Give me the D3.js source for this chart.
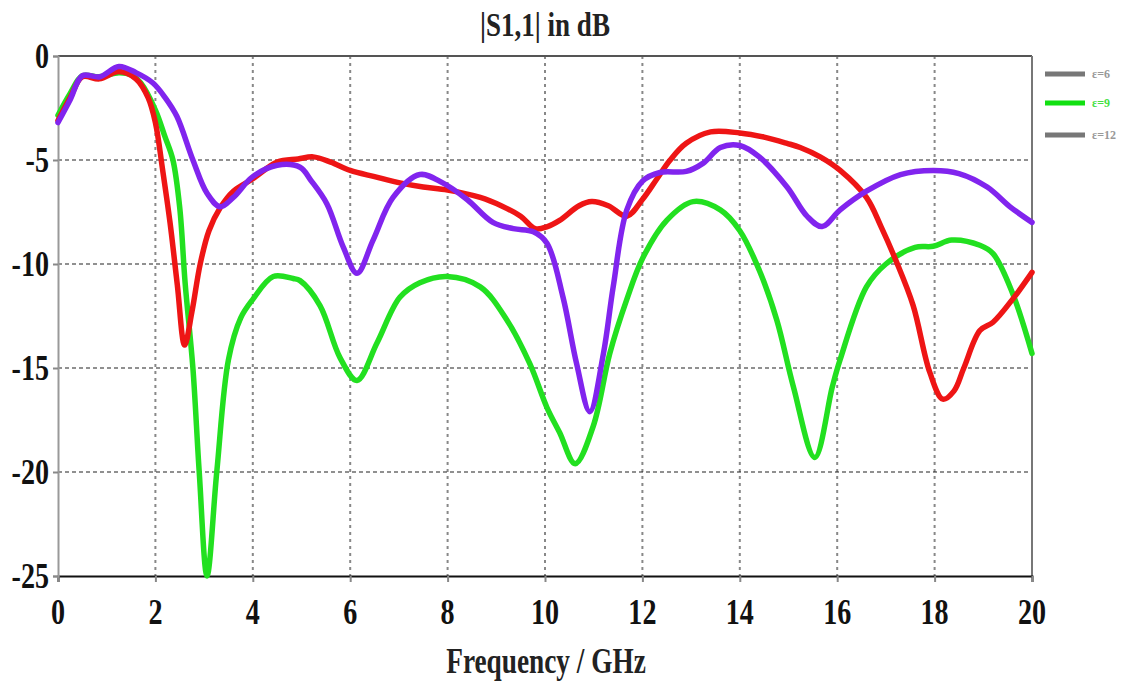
<!DOCTYPE html>
<html>
<head>
<meta charset="utf-8">
<script src="https://cdn.jsdelivr.net/npm/d3@7/dist/d3.min.js"></script>
<style>
  html, body { margin: 0; padding: 0; background: #fff; }
  svg { display: block; }
  text { font-family: "Liberation Serif", "Times New Roman", serif; font-weight: bold; }
</style>
</head>
<body>
<svg id="chart" width="1128" height="684"></svg>
<script>
// |S1,1| in dB versus frequency for three permittivity values
const freqTicks = [0, 2, 4, 6, 8, 10, 12, 14, 16, 18, 20];
const dbTicks = [0, -5, -10, -15, -20, -25];

const seriesNames = ["ε=6", "ε=9", "ε=12"];

// [frequency GHz, dB]
const redCurve = [
  [0, -3.1], [0.25, -2.0], [0.5, -1.0], [0.85, -1.1], [1.25, -0.75], [1.6, -1.1],
  [1.85, -2.0], [2.0, -3.2], [2.15, -5.5], [2.3, -8.0], [2.45, -11.0], [2.6, -13.9],
  [2.75, -12.3], [2.92, -10.0], [3.1, -8.4], [3.33, -7.3], [3.6, -6.5], [4.0, -5.9],
  [4.5, -5.1], [4.93, -4.95], [5.24, -4.85], [5.6, -5.1], [6.0, -5.5], [6.5, -5.8],
  [7.02, -6.1], [7.5, -6.3], [8.0, -6.45], [8.67, -6.8], [9.1, -7.2], [9.5, -7.7],
  [9.8, -8.3], [10.05, -8.2], [10.3, -7.9], [10.7, -7.2], [10.96, -7.0], [11.3, -7.2],
  [11.68, -7.7], [12.0, -6.9], [12.3, -5.9], [12.57, -5.0], [12.9, -4.2], [13.4, -3.65],
  [14.0, -3.7], [14.5, -3.9], [14.97, -4.2], [15.24, -4.4], [15.65, -4.85], [16.06, -5.5],
  [16.6, -6.8], [16.9, -8.2], [17.2, -9.8], [17.56, -12.0], [17.9, -15.2], [18.17, -16.5],
  [18.4, -16.1], [18.6, -15.0], [18.93, -13.2], [19.2, -12.8], [19.6, -11.7], [20.0, -10.4]
];

const greenCurve = [
  [0, -2.85], [0.25, -1.8], [0.5, -0.95], [0.85, -1.0], [1.25, -0.8], [1.5, -0.9],
  [1.7, -1.3], [2.0, -2.6], [2.2, -3.9], [2.36, -5.0], [2.5, -7.3], [2.61, -10.9],
  [2.77, -15.0], [2.9, -20.0], [3.06, -25.0], [3.26, -20.0], [3.5, -14.6], [3.75, -12.6],
  [4.0, -11.7], [4.42, -10.6], [4.83, -10.7], [4.97, -10.8], [5.38, -12.0], [5.79, -14.5],
  [6.14, -15.6], [6.55, -13.8], [7.02, -11.6], [7.43, -10.9], [7.99, -10.6], [8.67, -11.1],
  [9.22, -12.7], [9.69, -14.8], [10.04, -16.9], [10.3, -18.1], [10.62, -19.6], [10.99, -17.8],
  [11.33, -14.3], [11.68, -11.7], [12.01, -9.7], [12.5, -7.9], [13.04, -7.0], [13.6, -7.4],
  [14.0, -8.4], [14.4, -10.3], [14.76, -12.7], [15.1, -15.9], [15.54, -19.3], [15.9, -15.9],
  [16.06, -14.6], [16.6, -11.1], [17.0, -10.0], [17.6, -9.2], [17.97, -9.15], [18.35, -8.85],
  [18.93, -9.1], [19.2, -9.5], [19.6, -11.4], [20.0, -14.3]
];

const purpleCurve = [
  [0, -3.2], [0.25, -2.1], [0.5, -0.95], [0.86, -1.0], [1.25, -0.5], [1.6, -0.8],
  [1.95, -1.3], [2.2, -2.0], [2.44, -2.9], [2.77, -5.0], [3.06, -6.6], [3.33, -7.25],
  [3.6, -6.8], [4.0, -5.8], [4.5, -5.25], [4.97, -5.35], [5.2, -6.0], [5.52, -7.1],
  [5.86, -9.2], [6.14, -10.45], [6.47, -8.85], [6.88, -6.8], [7.43, -5.7], [7.9, -6.1],
  [8.4, -6.9], [8.93, -8.0], [9.35, -8.3], [9.76, -8.45], [10.04, -9.0], [10.37, -11.6],
  [10.65, -14.8], [10.92, -17.1], [11.2, -14.3], [11.4, -11.1], [11.68, -7.4], [12.01, -6.0],
  [12.36, -5.6], [12.9, -5.55], [13.25, -5.15], [13.6, -4.4], [14.0, -4.3], [14.4, -4.85],
  [14.97, -6.3], [15.38, -7.7], [15.69, -8.2], [16.06, -7.4], [16.6, -6.5], [17.3, -5.7],
  [17.97, -5.5], [18.5, -5.65], [19.08, -6.3], [19.55, -7.25], [20.0, -8.0]
];

const svg = d3.select("#chart");
const plotLeft = 58, plotRight = 1032, plotTop = 56, plotBottom = 576;

const x = d3.scaleLinear().domain([0, 20]).range([plotLeft, plotRight]);
const y = d3.scaleLinear().domain([-25, 0]).range([plotBottom, plotTop]);

// condensed text helper
function label(g, tx, ty, txt, size, anchor, fill, sx) {
  return g.append("text")
    .attr("transform", `translate(${tx},${ty}) scale(${sx},1)`)
    .attr("text-anchor", anchor)
    .attr("font-size", size)
    .attr("fill", fill)
    .text(txt);
}

// vertical dotted grid
svg.append("g").selectAll("line")
  .data(freqTicks.filter(d => d > 0 && d < 20))
  .join("line")
  .attr("x1", d => x(d)).attr("x2", d => x(d))
  .attr("y1", plotTop).attr("y2", plotBottom)
  .attr("stroke", "#888").attr("stroke-width", 2)
  .attr("stroke-dasharray", "3,4");

// horizontal dashed grid
svg.append("g").selectAll("line")
  .data(dbTicks.filter(d => d < 0 && d > -25))
  .join("line")
  .attr("x1", plotLeft).attr("x2", plotRight)
  .attr("y1", d => y(d)).attr("y2", d => y(d))
  .attr("stroke", "#222").attr("stroke-width", 1.2)
  .attr("stroke-dasharray", "4,3");

// frame
svg.append("line").attr("x1", plotLeft).attr("x2", plotRight).attr("y1", plotTop).attr("y2", plotTop)
  .attr("stroke", "#555").attr("stroke-width", 2);
svg.append("line").attr("x1", plotRight).attr("x2", plotRight).attr("y1", plotTop).attr("y2", plotBottom)
  .attr("stroke", "#777").attr("stroke-width", 2);

// x axis
const xAxis = d3.axisBottom(x).tickValues(freqTicks).tickSize(6).tickFormat("");
const gx = svg.append("g").attr("transform", `translate(0,${plotBottom})`).call(xAxis);
gx.select(".domain").attr("stroke", "#111").attr("stroke-width", 2);
gx.selectAll(".tick line").attr("stroke", "#888").attr("stroke-width", 2);

// y axis
const yAxis = d3.axisLeft(y).tickValues(dbTicks).tickSize(5).tickFormat("");
const gy = svg.append("g").attr("transform", `translate(${plotLeft},0)`).call(yAxis);
gy.select(".domain").attr("stroke", "#999").attr("stroke-width", 2);
gy.selectAll(".tick line").attr("stroke", "#888").attr("stroke-width", 2);

const labels = svg.append("g");
freqTicks.forEach(d => label(labels, x(d), 624, d3.format("d")(d), 36, "middle", "#111", 0.78));
dbTicks.forEach(d => label(labels, 49, y(d) + 12, d === 0 ? "0" : "-" + Math.abs(d), 36, "end", "#111", 0.78));

// title and axis title
label(labels, 545, 36, "|S1,1| in dB", 33, "middle", "#222", 0.82);
label(labels, 546, 673, "Frequency / GHz", 35, "middle", "#222", 0.78);

// curves
const line = d3.line()
  .x(d => x(d[0])).y(d => y(d[1]))
  .curve(d3.curveCatmullRom.alpha(0.5));

const curves = [
  { data: redCurve, color: "#ee1515" },
  { data: purpleCurve, color: "#8124ee" },
  { data: greenCurve, color: "#22e020" }
];
// draw order: green beneath red and purple where they overlap
[curves[2], curves[0], curves[1]].forEach(c => {
  svg.append("path")
    .datum(c.data)
    .attr("fill", "none")
    .attr("stroke", c.color)
    .attr("stroke-width", 5.5)
    .attr("stroke-linejoin", "round")
    .attr("stroke-linecap", "round")
    .attr("d", line);
});

// legend
const legendColors = ["#777", "#11e011", "#777"];
const legendText = ["#999", "#44e044", "#999"];
const legendY = [74, 103, 135];
const lg = svg.append("g");
seriesNames.forEach((name, i) => {
  lg.append("line")
    .attr("x1", 1045).attr("x2", 1085)
    .attr("y1", legendY[i]).attr("y2", legendY[i])
    .attr("stroke", legendColors[i]).attr("stroke-width", 5);
  lg.append("text")
    .attr("x", 1092).attr("y", legendY[i] + 4)
    .attr("font-size", 12).attr("font-weight", "normal")
    .attr("fill", legendText[i])
    .text(name);
});
</script>
</body>
</html>
